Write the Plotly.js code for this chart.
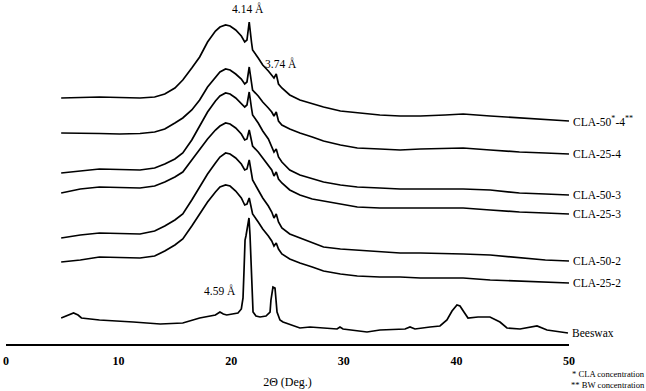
<!DOCTYPE html>
<html>
<head>
<meta charset="utf-8">
<script src="https://cdn.plot.ly/plotly-3.0.1.min.js"></script>
<style>html,body{margin:0;padding:0;background:#fff;}#chart{width:646px;height:391px;}</style>
</head>
<body>
<div id="chart"></div>
<script>
// 2θ grid shared by the CLA/BW oleogel traces (degrees)
const twoTheta = [4.9, 6.6, 8.3, 10.1, 11.9, 13.2, 14.1, 15.0, 15.7, 16.5, 17.2, 17.9, 18.6, 19.0, 19.5, 19.9,
  20.4, 20.9, 21.2, 21.4, 21.6, 21.8, 21.9, 22.4, 22.8, 23.3, 23.6, 23.8, 24.0, 24.2, 24.5, 25.2, 26.1, 27.2,
  28.2, 29.7, 31.2, 33.2, 35.0, 36.8, 39.0, 40.6, 43.0, 45.6, 47.9, 50.0];

// intensities (arbitrary units, traces vertically offset as in the figure)
const cla50_4 = [246, 246.5, 247, 246.5, 246, 247, 250, 256, 264, 276, 287, 302, 313, 317, 319, 318,
  314, 308, 302, 304, 322, 302, 294, 286, 279, 273, 269, 266, 270, 260, 256, 249, 244, 240,
  237, 233, 231, 229, 228, 228, 229, 230, 228, 226, 224, 223];
const cla25_4 = [211, 211, 210.5, 210, 210.5, 212, 215, 221, 226, 234, 244, 257, 267, 272, 275, 274,
  270, 265, 260, 262, 277, 260, 254, 248, 242, 236, 232, 228, 232, 223, 219, 215, 211, 207,
  203, 199, 196, 195, 194, 195, 196, 196, 194, 192, 191, 190];
const cla50_3 = [171, 173, 175, 174.5, 174, 176, 180, 185, 191, 204, 218, 232, 243, 248, 251, 250,
  246, 241, 237, 239, 252, 236, 229, 221, 213, 205, 198, 192, 195, 187, 182, 174, 169, 165,
  162, 159, 157, 156, 155, 155, 155, 155, 154, 151, 150, 149];
const cla25_3 = [151, 155, 157, 156.5, 156, 158, 162, 167, 172, 184, 195, 205, 214, 218, 221, 220,
  216, 210, 204, 205, 214, 203, 198, 192, 186, 179, 174, 168, 172, 165, 161, 154, 149, 145,
  143, 140, 137, 136, 136, 136, 136, 136, 134, 132, 131, 130];
const cla50_2 = [106, 109, 111, 110.5, 110, 113, 118, 124, 130, 144, 157, 170, 181, 187, 191, 190,
  186, 180, 174, 175, 184, 172, 164, 154, 146, 138, 132, 126, 130, 122, 116, 110, 106, 101,
  97, 95, 94, 92, 91, 91, 90, 90, 89, 86, 84, 83];
const cla25_2 = [82, 84, 87, 86.5, 86, 88, 93, 99, 105, 118, 130, 142, 152, 157, 159, 158,
  153, 146, 139, 140, 146, 137, 130, 122, 115, 108, 103, 98, 101, 95, 90, 85, 81, 77,
  73, 70, 68, 67, 67, 66, 66, 66, 64, 63, 62, 61];

// beeswax trace
const bwTheta = [4.9, 5.4, 6.0, 6.4, 6.7, 8.3, 10.3, 11.3, 13.7, 15.7, 17.2, 18.6, 19.0, 19.3, 19.6, 20.6,
  20.9, 21.05, 21.14, 21.23, 21.31, 21.4, 21.49, 21.58, 21.67, 21.76, 21.85, 21.94, 22.2, 22.56, 23.09,
  23.45, 23.53, 23.62, 23.71, 23.89, 23.98, 24.07, 24.33, 24.6, 26.1, 27.0, 29.4, 29.66, 29.93, 32.06,
  33.21, 35.44, 35.88, 36.32, 37.66, 38.54, 39.16, 39.61, 40.05, 40.32, 40.67, 41.03, 41.92, 42.98,
  43.87, 44.49, 45.65, 46.8, 47.16, 48.05, 49.91];
const beeswax = [26, 28, 31, 29, 26, 24, 23, 22, 20, 21, 26, 29, 32, 30, 29, 31,
  35, 46, 74, 104, 108, 114, 124, 126, 109, 79, 49, 32, 28, 27, 28,
  32, 44, 54, 57, 56, 46, 32, 24, 22, 16, 17, 15, 17, 15, 12,
  14, 15, 17, 15, 17, 18, 24, 33, 39, 38, 32, 26, 27, 27,
  22, 16, 15, 17, 18, 14, 11];

const seriesNames = ['CLA-50<sup>*</sup>-4<sup>**</sup>', 'CLA-25-4', 'CLA-50-3', 'CLA-25-3', 'CLA-50-2', 'CLA-25-2', 'Beeswax'];
const xTicks = [0, 10, 20, 30, 40, 50];
const peakLabels = ['4.14 Å', '3.74 Å', '4.59 Å'];
const peakPos = [[21.5, 336], [24.4, 281], [19.0, 54]];
const footnotes = ['* CLA concentration', '** BW concentration'];

const seriesX = [twoTheta, twoTheta, twoTheta, twoTheta, twoTheta, twoTheta, bwTheta];
const seriesY = [cla50_4, cla25_4, cla50_3, cla25_3, cla50_2, cla25_2, beeswax];

const serif = 'Liberation Serif, Times New Roman, serif';

const traces = seriesY.map((y, i) => ({
  type: 'scatter', mode: 'lines', x: seriesX[i], y: y,
  line: {color: '#000', width: 1.7}, hoverinfo: 'skip', showlegend: false
}));

const annotations = [];
seriesY.forEach((y, i) => {
  annotations.push({
    x: seriesX[i][seriesX[i].length - 1], y: y[y.length - 1], xref: 'x', yref: 'y',
    text: seriesNames[i], showarrow: false, xanchor: 'left', yanchor: 'middle', xshift: 2,
    font: {family: serif, size: 11.5, color: '#000'}
  });
});
peakLabels.forEach((t, i) => {
  annotations.push({
    x: peakPos[i][0], y: peakPos[i][1], xref: 'x', yref: 'y', text: t, showarrow: false,
    xanchor: 'center', yanchor: 'middle', font: {family: serif, size: 11.5, color: '#000'}
  });
});
footnotes.forEach((t, i) => {
  annotations.push({
    x: 1.136, y: -0.087 - 0.032 * i, xref: 'paper', yref: 'paper', text: t, showarrow: false,
    xanchor: 'right', yanchor: 'middle', borderpad: 0,
    font: {family: serif, size: 8.6, color: '#000'}
  });
});

const layout = {
  width: 646, height: 391,
  margin: {l: 6, r: 77, t: 0, b: 47},
  paper_bgcolor: '#fff', plot_bgcolor: '#fff',
  showlegend: false,
  xaxis: {
    range: [0, 50], tickvals: xTicks, ticktext: xTicks.map(String),
    showgrid: false, zeroline: false, showline: true, linecolor: '#000', linewidth: 1.5,
    ticks: 'outside', ticklen: 5, tickcolor: 'rgba(0,0,0,0)',
    tickfont: {family: serif, size: 12, color: '#000', weight: 'bold'},
    title: {text: '2Θ (Deg.)', font: {family: serif, size: 12, color: '#000'}, standoff: 10}
  },
  yaxis: {range: [0, 344], visible: false, showgrid: false, zeroline: false},
  annotations: annotations
};

Plotly.newPlot('chart', traces, layout, {displayModeBar: false, staticPlot: true});
</script>
</body>
</html>
